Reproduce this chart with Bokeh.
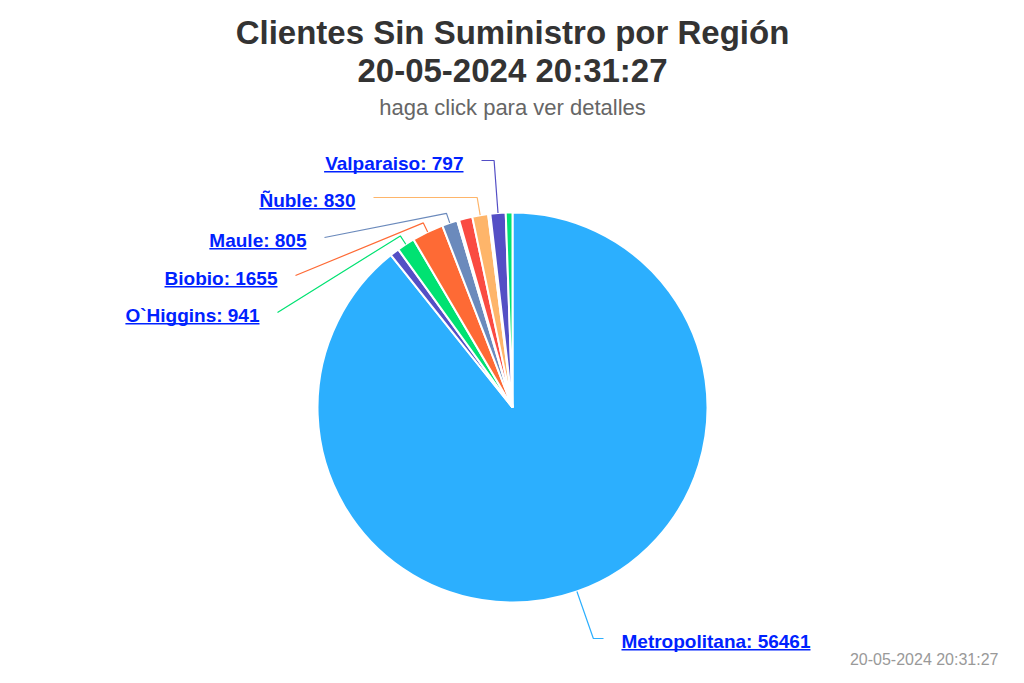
import math
from bokeh.plotting import figure
from bokeh.models import Range1d, ColumnDataSource
from bokeh.core.properties import value
from bokeh.embed import file_html
from bokeh.resources import INLINE

# ---------------- data ----------------
regions = ["Metropolitana", "Araucanía", "O`Higgins", "Biobio", "Maule", "Los Ríos",
           "Aysén", "Los Lagos", "Ñuble", "Coquimbo", "Atacama", "Valparaiso", "Antofagasta"]
clients = [56461, 480, 941, 1655, 805, 100, 5, 700, 830, 110, 5, 797, 350]
palette = ["#2caffe", "#544fc5", "#00e272", "#fe6a35", "#6b8abc", "#d568fb",
           "#2ee0ca", "#fa4b42", "#feb56a", "#91e8e1"]
title_lines = ["Clientes Sin Suministro por Región", "20-05-2024 20:31:27"]
subtitle = "haga click para ver detalles"
credits = "20-05-2024 20:31:27"

# ---------------- layout (screen px) ----------------
W, H, OFF = 1008, 667, 8
CX, CY, R = 512, 407, 195
FONT = "Liberation Sans"
LABEL_PX = 19
LABEL_COLOR = "#0022ff"
# text edge x, connector y, alignment
label_layout = {
    "Metropolitana": (621, 638, "left"),
    "O`Higgins": (259, 312, "right"),
    "Biobio": (277, 275, "right"),
    "Maule": (306, 237, "right"),
    "Ñuble": (355, 197, "right"),
    "Valparaiso": (463, 160, "right"),
}

# Arial/Liberation Sans Bold advance widths (em/1000)
BOLD_W = {" ": 278, ":": 333, "`": 333, "a": 556, "b": 611, "e": 556, "g": 611, "i": 278,
          "l": 278, "n": 611, "o": 611, "p": 611, "r": 389, "s": 556, "t": 333, "u": 611,
          "B": 722, "H": 722, "M": 833, "Ñ": 722, "O": 778, "V": 667}


def text_width(s, px):
    return sum(BOLD_W.get(c, 556) for c in s) / 1000.0 * px


def sy(y):
    return OFF + H - y  # screen y -> data y (data y grows upward)


p = figure(width=W, height=H, x_range=Range1d(0, W), y_range=Range1d(OFF, OFF + H),
           output_backend="svg", toolbar_location=None, min_border=0)
p.axis.visible = False
p.grid.visible = False
p.outline_line_color = None
p.background_fill_color = "white"
p.border_fill_color = "white"

total = float(sum(clients))
colors = [palette[i % len(palette)] for i in range(len(clients))]
theta_a, theta_b = [], []
acc = 0.0
for v in clients:
    a = acc / total * 360.0
    acc += v
    b = acc / total * 360.0
    theta_a.append(a)
    theta_b.append(b)

src = ColumnDataSource(dict(
    x=[CX] * len(clients), y=[sy(CY)] * len(clients),
    start=[math.radians(90 - b) for b in theta_b],
    end=[math.radians(90 - a) for a in theta_a],
    color=colors, name=regions, value=clients))
p.wedge(x="x", y="y", radius=R, start_angle="start", end_angle="end", direction="anticlock",
        fill_color="color", line_color="white", line_width=2, source=src)

# connectors + labels
cx_list, cy_list, ccol = [], [], []
lx, ly, ltxt, lalign = [], [], [], []
ux0, ux1, uy = [], [], []
for i, name in enumerate(regions):
    if name not in label_layout:
        continue
    edge_x, conn_y, align = label_layout[name]
    tm = math.radians((theta_a[i] + theta_b[i]) / 2.0)
    s, c = math.sin(tm), math.cos(tm)
    tx, ty = CX + R * s, CY - R * c
    bx, by = CX + (R + 10) * s, CY - (R + 10) * c
    end_x = edge_x + 18 if align == "right" else edge_x - 18
    if abs(conn_y - CY) > abs(by - CY):
        t = (CY - conn_y) / c
        mx, my = CX + t * s, conn_y
    else:
        mx, my = bx, by
    cx_list.append([tx, mx, end_x])
    cy_list.append([sy(ty), sy(my), sy(conn_y)])
    ccol.append(colors[i])
    txt = f"{name}: {clients[i]}"
    mid = conn_y + 2.5
    lx.append(edge_x)
    ly.append(sy(mid))
    ltxt.append(txt)
    lalign.append(align)
    w = text_width(txt, LABEL_PX)
    if align == "right":
        ux0.append(edge_x - w); ux1.append(edge_x)
    else:
        ux0.append(edge_x); ux1.append(edge_x + w)
    uy.append(sy(mid + 8.8))

p.multi_line(xs=cx_list, ys=cy_list, line_color=ccol, line_width=1.2)
lsrc = ColumnDataSource(dict(x=lx, y=ly, text=ltxt, align=lalign))
p.text(x="x", y="y", text="text", text_align="align", text_baseline="middle",
       text_font=value(FONT), text_font_size=f"{LABEL_PX}px", text_font_style="bold",
       text_color=LABEL_COLOR, source=lsrc)
p.segment(x0=ux0, y0=uy, x1=ux1, y1=uy, line_color=LABEL_COLOR, line_width=1.6)

# titles
p.text(x=[512, 512], y=[sy(32), sy(70)], text=title_lines, text_align="center",
       text_baseline="middle", text_font=value(FONT), text_font_size="33px",
       text_font_style="bold", text_color="#333333")
p.text(x=[512], y=[sy(107)], text=[subtitle], text_align="center", text_baseline="middle",
       text_font=value(FONT), text_font_size="22px", text_color="#666666")
p.text(x=[998], y=[sy(659)], text=[credits], text_align="right", text_baseline="middle",
       text_font=value(FONT), text_font_size="16px", text_color="#999999")

open("out.html", "w").write(file_html(p, INLINE))
